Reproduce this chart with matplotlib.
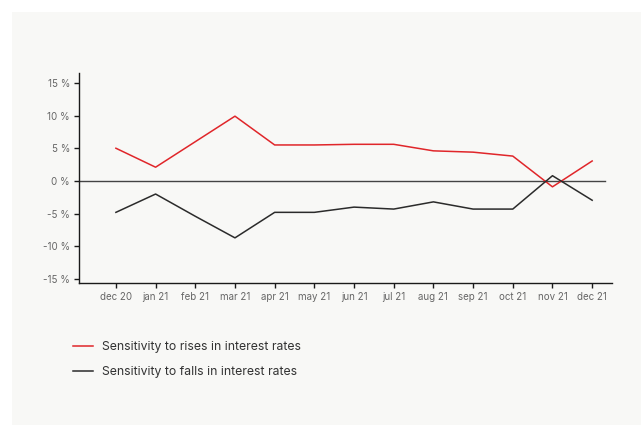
import matplotlib
matplotlib.use("Agg")
import matplotlib.pyplot as plt
from matplotlib.patches import Rectangle
from matplotlib.lines import Line2D

months = ["dec 20", "jan 21", "feb 21", "mar 21", "apr 21", "may 21", "jun 21",
          "jul 21", "aug 21", "sep 21", "oct 21", "nov 21", "dec 21"]
rises = [5.0, 2.1, 6.0, 9.9, 5.5, 5.5, 5.6, 5.6, 4.6, 4.4, 3.8, -0.9, 3.05]
falls = [-4.8, -2.0, -5.4, -8.7, -4.8, -4.8, -4.0, -4.3, -3.2, -4.3, -4.3, 0.8, -2.95]
yticks = [-15, -10, -5, 0, 5, 10, 15]
series_labels = ["Sensitivity to rises in interest rates",
                 "Sensitivity to falls in interest rates"]

plt.rcParams["font.family"] = ["Inter", "DejaVu Sans"]

W, H = 641, 425
fig = plt.figure(figsize=(W / 100, H / 100), dpi=100)
fig.patch.set_facecolor("white")
fig.patches.append(Rectangle((12 / W, 0), 1 - 12 / W, 1 - 12 / H,
                             transform=fig.transFigure, facecolor="#f8f8f6",
                             edgecolor="none", zorder=-10))

ax = fig.add_axes([79 / W, 1 - 283 / H, (612 - 79) / W, (283 - 73) / H])
ax.set_facecolor("none")
ax.set_zorder(5)

x = list(range(len(months)))
red = "#e0262a"
dark = "#2b2b2b"
ax.plot(x, rises, color=red, lw=1.1, zorder=3)
ax.plot(x, falls, color=dark, lw=1.1, zorder=3)
ax.plot([-0.93, 12.33], [0, 0], color="#444444", lw=1.0, zorder=1)

ax.set_xlim(-0.93, 12.5)
ax.set_ylim(-15.6, 16.5)
ax.set_xticks(x)
ax.set_xticklabels(months)
ax.set_yticks(yticks)
ax.set_yticklabels([f"{v} %" for v in yticks])

for s in ["top", "right"]:
    ax.spines[s].set_visible(False)
for s in ["left", "bottom"]:
    ax.spines[s].set_color("#1a1a1a")
    ax.spines[s].set_linewidth(1.0)
ax.tick_params(axis="both", colors="#1a1a1a", labelcolor="#666666",
               labelsize=7, length=3.5, width=1.0, pad=3)

handles = [Line2D([], [], color=red, lw=1.1), Line2D([], [], color=dark, lw=1.1)]
leg = fig.legend(handles, series_labels, loc="upper left",
                 bbox_to_anchor=(62 / W, 1 - 330 / H), frameon=False,
                 fontsize=8.8, labelcolor="#333333", handlelength=1.6,
                 handletextpad=0.8, labelspacing=1.1)
leg.set_zorder(6)

fig.savefig("out.png", dpi=100, facecolor=fig.get_facecolor())
